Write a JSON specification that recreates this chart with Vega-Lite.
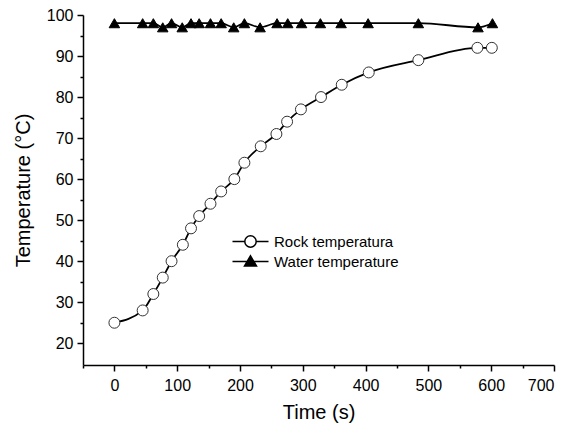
{
  "$schema": "https://vega.github.io/schema/vega-lite/v6.json",
  "width": 471,
  "height": 350,
  "autosize": "none",
  "padding": {"left": 83, "top": 15, "right": 14, "bottom": 65},
  "background": "white",
  "data": {
    "values": [
      {"t": 0, "T": 25, "series": "Rock temperatura"},
      {"t": 45, "T": 28, "series": "Rock temperatura"},
      {"t": 62, "T": 32, "series": "Rock temperatura"},
      {"t": 77, "T": 36, "series": "Rock temperatura"},
      {"t": 91, "T": 40, "series": "Rock temperatura"},
      {"t": 109, "T": 44, "series": "Rock temperatura"},
      {"t": 122, "T": 48, "series": "Rock temperatura"},
      {"t": 135, "T": 51, "series": "Rock temperatura"},
      {"t": 153, "T": 54, "series": "Rock temperatura"},
      {"t": 170, "T": 57, "series": "Rock temperatura"},
      {"t": 191, "T": 60, "series": "Rock temperatura"},
      {"t": 207, "T": 64, "series": "Rock temperatura"},
      {"t": 233, "T": 68, "series": "Rock temperatura"},
      {"t": 258, "T": 71, "series": "Rock temperatura"},
      {"t": 275, "T": 74, "series": "Rock temperatura"},
      {"t": 297, "T": 77, "series": "Rock temperatura"},
      {"t": 329, "T": 80, "series": "Rock temperatura"},
      {"t": 362, "T": 83, "series": "Rock temperatura"},
      {"t": 405, "T": 86, "series": "Rock temperatura"},
      {"t": 484, "T": 89, "series": "Rock temperatura"},
      {"t": 578, "T": 92, "series": "Rock temperatura"},
      {"t": 601, "T": 92, "series": "Rock temperatura"},
      {"t": 0, "T": 98, "series": "Water temperature"},
      {"t": 45, "T": 98, "series": "Water temperature"},
      {"t": 62, "T": 98, "series": "Water temperature"},
      {"t": 77, "T": 97, "series": "Water temperature"},
      {"t": 91, "T": 98, "series": "Water temperature"},
      {"t": 108, "T": 97, "series": "Water temperature"},
      {"t": 122, "T": 98, "series": "Water temperature"},
      {"t": 135, "T": 98, "series": "Water temperature"},
      {"t": 153, "T": 98, "series": "Water temperature"},
      {"t": 170, "T": 98, "series": "Water temperature"},
      {"t": 190, "T": 97, "series": "Water temperature"},
      {"t": 207, "T": 98, "series": "Water temperature"},
      {"t": 232, "T": 97, "series": "Water temperature"},
      {"t": 259, "T": 98, "series": "Water temperature"},
      {"t": 276, "T": 98, "series": "Water temperature"},
      {"t": 298, "T": 98, "series": "Water temperature"},
      {"t": 328, "T": 98, "series": "Water temperature"},
      {"t": 361, "T": 98, "series": "Water temperature"},
      {"t": 404, "T": 98, "series": "Water temperature"},
      {"t": 484, "T": 98, "series": "Water temperature"},
      {"t": 579, "T": 97, "series": "Water temperature"},
      {"t": 602, "T": 98, "series": "Water temperature"}
    ]
  },
  "encoding": {
    "x": {
      "field": "t",
      "type": "quantitative",
      "scale": {"domain": [-50, 700], "nice": false, "zero": false},
      "axis": {
        "title": "Time (s)",
        "values": [-50, 0, 50, 100, 150, 200, 250, 300, 350, 400, 450, 500, 550, 600, 650, 700],
        "labelExpr": "datum.value % 100 === 0 ? datum.label : ''",
        "tickSize": {"condition": {"test": "datum.value % 100 === 0", "value": 6}, "value": 3},
        "labelPadding": 6,
        "titlePadding": 9
      }
    },
    "y": {
      "field": "T",
      "type": "quantitative",
      "scale": {"domain": [14.7, 100], "nice": false, "zero": false},
      "axis": {
        "title": "Temperature (°C)",
        "values": [20, 25, 30, 35, 40, 45, 50, 55, 60, 65, 70, 75, 80, 85, 90, 95, 100],
        "labelExpr": "datum.value % 10 === 0 ? datum.label : ''",
        "tickSize": {"condition": {"test": "datum.value % 10 === 0", "value": 6}, "value": 3},
        "labelPadding": 4,
        "titlePadding": 13
      }
    }
  },
  "layer": [
    {
      "mark": {"type": "line", "interpolate": "monotone", "color": "black", "strokeWidth": 1.8},
      "encoding": {"detail": {"field": "series"}}
    },
    {
      "transform": [{"filter": "datum.series === 'Rock temperatura'"}],
      "mark": {"type": "point", "shape": "circle", "filled": true, "fill": "white", "size": 120, "stroke": "#333", "strokeWidth": 1, "opacity": 1}
    },
    {
      "transform": [{"filter": "datum.series === 'Water temperature'"}],
      "mark": {"type": "point", "shape": "triangle-up", "filled": true, "fill": "black", "size": 110, "stroke": "black", "strokeWidth": 1, "opacity": 1}
    },
    {
      "transform": [{"filter": "datum.t < -1000"}],
      "mark": {"type": "point", "filled": true, "stroke": "black", "strokeWidth": 1.5, "opacity": 1},
      "encoding": {
        "shape": {
          "field": "series",
          "type": "nominal",
          "scale": {
            "domain": ["Rock temperatura", "Water temperature"],
            "range": [
              "M-3,0L-0.95,0M0.95,0L3,0M-0.95,0A0.95,0.95 0 1,0 0.95,0A0.95,0.95 0 1,0 -0.95,0Z",
              "M-3,0L3,0M0,-0.95L1,0.75L-1,0.75Z"
            ]
          },
          "legend": {
            "title": null,
            "orient": "none",
            "legendX": 160,
            "legendY": 219,
            "padding": 0,
            "symbolSize": 144,
            "labelOffset": 16,
            "labelFontSize": 15,
            "rowPadding": 1,
            "encode": {
              "symbols": {
                "update": {
                  "stroke": {"value": "black"},
                  "strokeWidth": {"value": 1.5},
                  "opacity": {"value": 1}
                }
              }
            }
          }
        },
        "fill": {
          "field": "series",
          "type": "nominal",
          "scale": {"domain": ["Rock temperatura", "Water temperature"], "range": ["white", "black"]},
          "legend": null
        }
      }
    }
  ],
  "config": {
    "view": {"stroke": null},
    "font": "Liberation Sans",
    "axis": {
      "grid": false,
      "domainColor": "black",
      "domainWidth": 1.5,
      "tickColor": "black",
      "tickWidth": 1.5,
      "labelColor": "black",
      "labelFontSize": 16,
      "titleColor": "black",
      "titleFontSize": 20,
      "titleFontWeight": "normal"
    },
    "legend": {"labelColor": "black", "labelFont": "Liberation Sans"}
  }
}
